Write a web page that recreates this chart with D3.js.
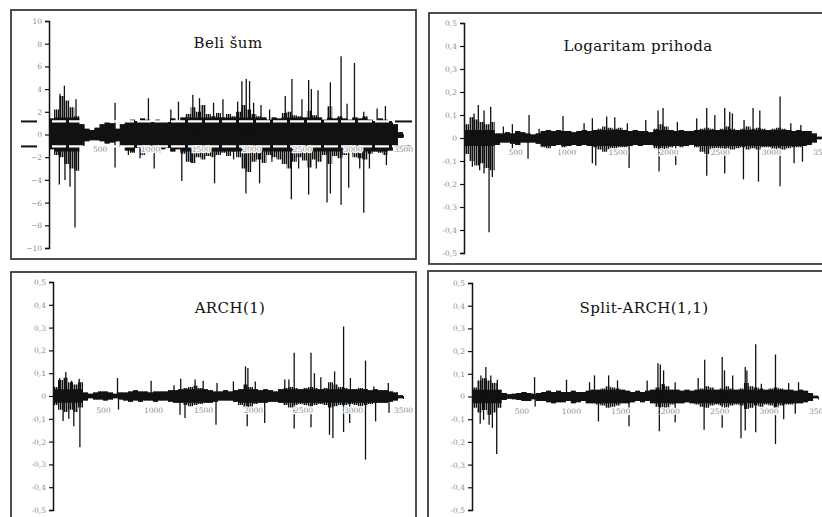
<!DOCTYPE html>
<html>
<head>
<meta charset="utf-8">
<script src="https://cdn.jsdelivr.net/npm/d3@7"></script>
<style>
	body { margin: 0; background: #fff; }
	.tick text { fill: #8c8c8c; font-family: "DejaVu Serif", serif; font-size: 7.5px; }
	.title { font-family: "DejaVu Serif", serif; font-size: 15px; fill: #111; letter-spacing: 0.4px; }
</style>
</head>
<body>
<div id="chart"></div>
<script>
// observations per envelope bin, 70 bins cover 0..3500
var BIN = 50;

// Beli šum
var beliUpper = [1.4, 2.2, 3.4, 3.0, 2.4, 1.6, 0.9, 0.5, 0.4, 0.6, 0.9, 1.1, 1.0, 0.5, 0.9, 1.2, 1.3, 1.2, 1.4, 1.3,
	1.1, 1.3, 1.2, 1.1, 1.4, 1.2, 1.5, 1.8, 2.4, 2.0, 2.6, 1.8, 1.6, 1.9, 1.5, 1.8, 1.6, 2.0, 2.6, 2.2,
	1.8, 1.6, 1.5, 1.3, 1.5, 1.4, 1.9, 2.0, 1.7, 1.6, 1.5, 2.1, 1.7, 1.5, 1.3, 2.5, 1.4, 1.6, 1.4, 1.3,
	1.5, 1.4, 1.6, 1.3, 1.2, 1.4, 1.3, 1.2, 0.9, 0.2];
var beliLower = [-1.3, -1.8, -2.0, -2.6, -3.0, -3.2, -1.0, -0.6, -0.5, -0.5, -0.6, -0.8, -0.7, -0.6, -1.1, -1.4, -1.6, -1.2, -1.8, -1.5,
	-1.3, -1.6, -1.3, -1.2, -1.5, -1.3, -1.7, -2.4, -2.5, -2.0, -2.2, -1.9, -2.0, -1.8, -1.6, -1.9, -1.5, -2.0, -3.0, -3.3,
	-2.4, -2.2, -2.5, -1.8, -2.0, -2.2, -2.6, -3.0, -2.4, -2.0, -2.3, -2.9, -2.2, -2.4, -1.8, -2.6, -1.9, -2.1, -1.8, -1.6,
	-2.0, -2.1, -2.2, -1.7, -1.5, -1.6, -1.8, -1.4, -1.0, -0.3];
var beliSpikes = [[152, 4.3], [109, 3.6], [267, 3.1], [653, 2.8], [983, 3.2], [1205, 2.2], [1280, 2.9], [1422, 3.5],
	[1488, 3.2], [1627, 2.8], [1720, 3.1], [1865, 2.9], [1907, 4.7], [1950, 4.9], [1983, 4.7], [2023, 2.8],
	[2096, 2.6], [2181, 2.2], [2336, 3.4], [2402, 4.9], [2501, 3.1], [2567, 4.8], [2594, 4.0], [2660, 3.9],
	[2782, 4.6], [2888, 6.9], [2947, 2.7], [3020, 6.3], [3112, 2.0], [3244, 2.3], [3326, 2.5],
	[102, -4.4], [158, -4.0], [208, -4.6], [257, -8.2], [653, -2.9], [785, -1.8], [900, -2.1], [1040, -3.0],
	[1313, -4.1], [1412, -2.5], [1637, -4.3], [1825, -2.2], [1947, -5.2], [2082, -4.3], [2204, -2.4],
	[2396, -5.7], [2468, -3.0], [2567, -5.3], [2643, -3.0], [2749, -6.0], [2782, -5.2], [2888, -6.2],
	[2963, -4.7], [3072, -3.0], [3112, -6.9], [3168, -3.0], [3336, -2.7]];
var beliCore = 1.5;
var beliBands = [1.15, -1.05];

// Logaritam prihoda
var logUpper = [0.06, 0.09, 0.08, 0.07, 0.06, 0.07, 0.02, 0.02, 0.025, 0.02, 0.03, 0.025, 0.02, 0.015, 0.02, 0.03, 0.035, 0.03, 0.035, 0.03,
	0.03, 0.025, 0.03, 0.035, 0.03, 0.035, 0.04, 0.05, 0.045, 0.04, 0.045, 0.035, 0.03, 0.035, 0.03, 0.03, 0.025, 0.04, 0.06, 0.05,
	0.035, 0.03, 0.035, 0.03, 0.03, 0.035, 0.04, 0.045, 0.04, 0.035, 0.04, 0.05, 0.04, 0.035, 0.04, 0.05, 0.04, 0.045, 0.04, 0.035,
	0.04, 0.045, 0.04, 0.035, 0.03, 0.035, 0.03, 0.03, 0.02, 0.005];
var logLower = [-0.07, -0.1, -0.12, -0.11, -0.13, -0.14, -0.03, -0.02, -0.02, -0.025, -0.03, -0.02, -0.02, -0.02, -0.025, -0.04, -0.045, -0.035, -0.03, -0.04,
	-0.035, -0.03, -0.035, -0.03, -0.035, -0.04, -0.05, -0.06, -0.05, -0.045, -0.04, -0.04, -0.035, -0.03, -0.035, -0.03, -0.03, -0.045, -0.05, -0.06,
	-0.04, -0.035, -0.04, -0.035, -0.03, -0.04, -0.06, -0.07, -0.05, -0.045, -0.05, -0.06, -0.05, -0.045, -0.04, -0.05, -0.045, -0.05, -0.04, -0.04,
	-0.05, -0.06, -0.05, -0.045, -0.04, -0.04, -0.035, -0.03, -0.02, -0.005];
var logSpikes = [[98, 0.107], [140, 0.143], [196, 0.12], [261, 0.136], [385, 0.05], [473, 0.06], [636, 0.1], [734, 0.04],
	[968, 0.096], [1174, 0.064], [1255, 0.086], [1395, 0.093], [1474, 0.09], [1597, 0.064], [1777, 0.078],
	[1897, 0.12], [1946, 0.13], [2086, 0.07], [2275, 0.086], [2373, 0.13], [2452, 0.1], [2549, 0.13],
	[2598, 0.114], [2624, 0.107], [2738, 0.078], [2826, 0.13], [2892, 0.12], [3090, 0.18], [3195, 0.064], [3293, 0.057],
	[82, -0.125], [153, -0.14], [196, -0.154], [245, -0.41], [277, -0.17], [473, -0.06], [626, -0.09],
	[1255, -0.11], [1288, -0.12], [1614, -0.13], [1907, -0.146], [2070, -0.117], [2373, -0.164], [2549, -0.154],
	[2732, -0.18], [2879, -0.19], [3090, -0.21], [3227, -0.11], [3309, -0.103]];
var logCore = 0.035;

// ARCH(1)
var archUpper = [0.04, 0.07, 0.08, 0.06, 0.05, 0.06, 0.015, 0.01, 0.015, 0.02, 0.02, 0.015, 0.01, 0.015, 0.015, 0.02, 0.025, 0.02, 0.02, 0.015,
	0.02, 0.02, 0.02, 0.025, 0.025, 0.03, 0.035, 0.04, 0.045, 0.035, 0.03, 0.025, 0.02, 0.02, 0.025, 0.02, 0.025, 0.03, 0.05, 0.04,
	0.03, 0.025, 0.03, 0.025, 0.02, 0.03, 0.035, 0.04, 0.035, 0.03, 0.035, 0.04, 0.035, 0.03, 0.035, 0.06, 0.05, 0.04, 0.035, 0.03,
	0.03, 0.035, 0.03, 0.025, 0.03, 0.025, 0.025, 0.02, 0.015, 0.003];
var archLower = [-0.04, -0.06, -0.07, -0.06, -0.07, -0.05, -0.02, -0.01, -0.015, -0.015, -0.02, -0.015, -0.01, -0.015, -0.02, -0.025, -0.02, -0.025, -0.02, -0.02,
	-0.025, -0.02, -0.02, -0.025, -0.03, -0.03, -0.04, -0.045, -0.04, -0.035, -0.03, -0.03, -0.025, -0.02, -0.02, -0.02, -0.025, -0.04, -0.05, -0.05,
	-0.035, -0.03, -0.03, -0.025, -0.025, -0.03, -0.04, -0.05, -0.04, -0.035, -0.04, -0.045, -0.04, -0.035, -0.04, -0.05, -0.045, -0.04, -0.04, -0.035,
	-0.04, -0.045, -0.04, -0.035, -0.03, -0.03, -0.03, -0.025, -0.02, -0.01];
var archSpikes = [[67, 0.079], [128, 0.105], [185, 0.067], [262, 0.076], [645, 0.079], [981, 0.067], [1210, 0.047],
	[1277, 0.076], [1421, 0.072], [1502, 0.067], [1640, 0.057], [1804, 0.064], [1925, 0.13], [1949, 0.123],
	[2023, 0.064], [2318, 0.072], [2359, 0.072], [2412, 0.19], [2580, 0.19], [2614, 0.1], [2678, 0.082],
	[2816, 0.108], [2906, 0.305], [2974, 0.079], [3125, 0.155], [3209, 0.042], [3353, 0.057],
	[101, -0.11], [158, -0.1], [208, -0.133], [269, -0.225], [655, -0.06], [1270, -0.082], [1320, -0.096],
	[1630, -0.126], [1942, -0.133], [2117, -0.118], [2412, -0.143], [2580, -0.137], [2765, -0.17], [2799, -0.184],
	[2906, -0.158], [2967, -0.118], [3125, -0.279], [3226, -0.111], [3360, -0.074]];
var archCore = 0.03;

// Split-ARCH(1,1)
var splitUpper = [0.04, 0.07, 0.08, 0.07, 0.06, 0.03, 0.015, 0.01, 0.012, 0.015, 0.02, 0.015, 0.012, 0.015, 0.02, 0.025, 0.02, 0.025, 0.02, 0.02,
	0.025, 0.02, 0.02, 0.025, 0.03, 0.03, 0.035, 0.045, 0.04, 0.035, 0.03, 0.025, 0.02, 0.025, 0.02, 0.025, 0.03, 0.04, 0.055, 0.045,
	0.03, 0.03, 0.025, 0.03, 0.025, 0.03, 0.035, 0.045, 0.04, 0.03, 0.035, 0.045, 0.035, 0.03, 0.035, 0.06, 0.045, 0.04, 0.035, 0.03,
	0.035, 0.04, 0.035, 0.03, 0.03, 0.025, 0.03, 0.025, 0.015, 0.003];
var splitLower = [-0.05, -0.07, -0.06, -0.08, -0.07, -0.05, -0.015, -0.01, -0.012, -0.015, -0.02, -0.02, -0.012, -0.02, -0.02, -0.025, -0.03, -0.025, -0.025, -0.02,
	-0.03, -0.025, -0.02, -0.03, -0.03, -0.035, -0.04, -0.05, -0.045, -0.04, -0.03, -0.03, -0.025, -0.02, -0.025, -0.02, -0.03, -0.045, -0.05, -0.05,
	-0.035, -0.03, -0.03, -0.025, -0.03, -0.035, -0.045, -0.05, -0.04, -0.035, -0.04, -0.05, -0.04, -0.035, -0.04, -0.055, -0.05, -0.04, -0.045, -0.035,
	-0.04, -0.05, -0.04, -0.035, -0.035, -0.03, -0.03, -0.025, -0.02, -0.008];
var splitSpikes = [[90, 0.093], [140, 0.13], [190, 0.093], [256, 0.074], [633, 0.085], [956, 0.074], [1189, 0.063],
	[1239, 0.093], [1382, 0.093], [1472, 0.071], [1772, 0.071], [1881, 0.147], [1905, 0.141], [1938, 0.115],
	[2055, 0.063], [2288, 0.082], [2354, 0.162], [2531, 0.174], [2554, 0.115], [2637, 0.093], [2764, 0.13],
	[2781, 0.115], [2870, 0.23], [2927, 0.056], [3070, 0.185], [3203, 0.059], [3303, 0.063],
	[83, -0.12], [117, -0.103], [173, -0.124], [206, -0.138], [250, -0.253], [639, -0.044], [1279, -0.11],
	[1588, -0.131], [1895, -0.153], [2055, -0.113], [2348, -0.147], [2531, -0.138], [2721, -0.184], [2764, -0.15],
	[2870, -0.157], [3070, -0.209], [3153, -0.1], [3270, -0.076]];
var splitCore = 0.03;

var xTicks = [500, 1000, 1500, 2000, 2500, 3000, 3500];
var yTicksWide = [-10, -8, -6, -4, -2, 0, 2, 4, 6, 8, 10];
var yTicksSmall = [-0.5, -0.4, -0.3, -0.2, -0.1, 0, 0.1, 0.2, 0.3, 0.4, 0.5];

var commaFmt = function(_d) {
	return _d === 0 ? "0" : String(_d).replace(".", ",");
};

var panels = [
	{ title: "Beli šum", box: [11, 10, 416, 259], ax: [49, 403], ay: [21, 248], dom: 10, ticks: yTicksWide, fmt: d3.format("d"),
		upper: beliUpper, lower: beliLower, spikes: beliSpikes, core: beliCore, bands: beliBands, ty: 48, tx: 228 },
	{ title: "Logaritam prihoda", box: [429, 13, 830, 264], ax: [464, 822], ay: [23, 253], dom: 0.5, ticks: yTicksSmall, fmt: commaFmt,
		upper: logUpper, lower: logLower, spikes: logSpikes, core: logCore, bands: null, ty: 51, tx: 638 },
	{ title: "ARCH(1)", box: [11, 272, 416, 525], ax: [53, 403], ay: [282, 510], dom: 0.5, ticks: yTicksSmall, fmt: commaFmt,
		upper: archUpper, lower: archLower, spikes: archSpikes, core: archCore, bands: null, ty: 313, tx: 230 },
	{ title: "Split-ARCH(1,1)", box: [428, 271, 830, 525], ax: [472, 818], ay: [283, 510], dom: 0.5, ticks: yTicksSmall, fmt: commaFmt,
		upper: splitUpper, lower: splitLower, spikes: splitSpikes, core: splitCore, bands: null, ty: 313, tx: 644 }
];

var svg = d3.select("#chart").append("svg")
	.attr("width", 822)
	.attr("height", 517);

// dense vertical hatching for the outer volatility envelope
var pattern = svg.append("defs").append("pattern")
	.attr("id", "hair")
	.attr("patternUnits", "userSpaceOnUse")
	.attr("width", 2)
	.attr("height", 4);
pattern.append("rect")
	.attr("width", 1.45)
	.attr("height", 4)
	.style("fill", "#111");

var drawPanel = function(_p) {
	var g = svg.append("g");

	g.append("rect")
		.attr("x", _p.box[0])
		.attr("y", _p.box[1])
		.attr("width", _p.box[2] - _p.box[0])
		.attr("height", _p.box[3] - _p.box[1])
		.style("fill", "#fff")
		.style("stroke", "#3a3a3a")
		.style("stroke-width", 1.8);

	var x = d3.scaleLinear().domain([0, 3500]).range(_p.ax);
	var y = d3.scaleLinear().domain([_p.dom, -_p.dom]).range(_p.ay);

	var bins = _p.upper.map(function(_u, _i) {
		return { t: _i * BIN, hi: _u, lo: _p.lower[_i] };
	});
	bins.push({ t: bins.length * BIN, hi: _p.upper[_p.upper.length - 1], lo: _p.lower[_p.lower.length - 1] });

	var outer = d3.area()
		.curve(d3.curveStepAfter)
		.x(function(_d) { return x(_d.t); })
		.y0(function(_d) { return y(_d.lo); })
		.y1(function(_d) { return y(_d.hi); });

	var inner = d3.area()
		.curve(d3.curveStepAfter)
		.x(function(_d) { return x(_d.t); })
		.y0(function(_d) { return y(Math.max(_d.lo, -_p.core)); })
		.y1(function(_d) { return y(Math.min(_d.hi, _p.core)); });

	g.append("path")
		.datum(bins)
		.attr("d", outer)
		.style("fill", "url(#hair)");

	g.append("path")
		.datum(bins)
		.attr("d", inner)
		.style("fill", "#111");

	g.selectAll(".spike").data(_p.spikes).enter().append("line")
		.attr("x1", function(_d) { return x(_d[0]); })
		.attr("x2", function(_d) { return x(_d[0]); })
		.attr("y1", y(0))
		.attr("y2", function(_d) { return y(_d[1]); })
		.style("stroke", "#111")
		.style("stroke-width", 1.3);

	// band lines (white-noise panel only): black stubs outside, white dashes over the data
	if(_p.bands)	{
		var stubs = [[_p.box[0] + 10, x(0) - 12], [x(3420), _p.box[2] - 4]];
		_p.bands.forEach(function(_b) {
			stubs.forEach(function(_s) {
				g.append("line")
					.attr("x1", _s[0])
					.attr("x2", _s[1])
					.attr("y1", y(_b))
					.attr("y2", y(_b))
					.style("stroke", "#111")
					.style("stroke-width", 2);
			});
			g.append("line")
				.attr("x1", x(0) + 3)
				.attr("x2", x(3420))
				.attr("y1", y(_b))
				.attr("y2", y(_b))
				.style("stroke", "#fff")
				.style("stroke-width", 2.2)
				.style("stroke-dasharray", "14,3");
		});
	}

	var xAxis = g.append("g")
		.attr("transform", "translate(0," + y(0) + ")")
		.call(d3.axisBottom(x).tickValues(xTicks).tickFormat(d3.format("d")).tickSize(3).tickSizeOuter(0).tickPadding(9));
	xAxis.select(".domain").style("stroke", "#111").style("stroke-width", 1.2);
	xAxis.selectAll(".tick line").style("stroke", "#111");
	xAxis.selectAll(".tick text")
		.style("paint-order", "stroke")
		.style("stroke", "#fff")
		.style("stroke-width", 2.5);

	var yAxis = g.append("g")
		.attr("transform", "translate(" + x(0) + ",0)")
		.call(d3.axisLeft(y).tickValues(_p.ticks).tickFormat(_p.fmt).tickSize(4).tickPadding(3));
	yAxis.select(".domain").style("stroke", "#111").style("stroke-width", 1.5);
	yAxis.selectAll(".tick line").style("stroke", "#111").style("stroke-width", 1.2);

	g.append("text")
		.attr("class", "title")
		.attr("x", _p.tx)
		.attr("y", _p.ty)
		.attr("text-anchor", "middle")
		.text(_p.title);
};

for(var i = 0, len = panels.length ; i < len ; i++)	{
	drawPanel(panels[i]);
}
</script>
</body>
</html>
